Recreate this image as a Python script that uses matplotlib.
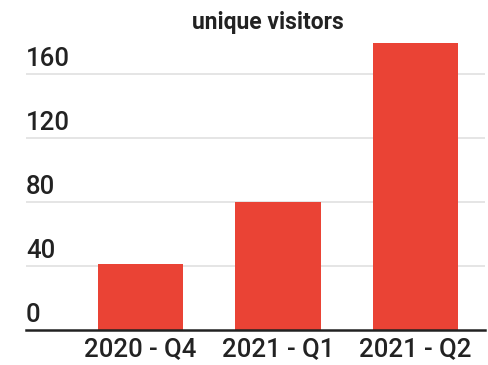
import matplotlib.pyplot as plt
import matplotlib.transforms as mtransforms

# data
quarters = ["2020 - Q4", "2021 - Q1", "2021 - Q2"]
visitors = [41, 80, 179]
y_ticks = [0, 40, 80, 120, 160]

plt.rcParams["font.family"] = ["Roboto", "DejaVu Sans"]

fig = plt.figure(figsize=(4.88, 3.65), dpi=100)
ax = fig.add_axes([26 / 488, 35 / 365, 459 / 488, 290 / 365])

ax.bar(range(len(quarters)), visitors, width=0.62, color="#EA4335", zorder=2)

ax.set_xlim(-0.833, 2.505)
ax.set_ylim(0, 181)

# gridlines
for t in y_ticks[1:]:
    ax.axhline(t, color="#e0e0e0", linewidth=1.2, zorder=1)

# y labels sit above their gridlines, left aligned
trans = mtransforms.blended_transform_factory(ax.transAxes, ax.transData)
offset = mtransforms.ScaledTranslation(0, 5.5 / 72, fig.dpi_scale_trans)
for t in y_ticks:
    ax.text(0, t, str(t), transform=trans + offset, ha="left", va="baseline",
            fontsize=18.5, fontweight="medium", color="#222222")

ax.set_yticks([])
ax.set_xticks(range(len(quarters)))
ax.set_xticklabels(quarters, fontsize=18.5, fontweight="medium", color="#222222")
ax.tick_params(axis="x", length=0, pad=5)

for s in ["top", "right", "left"]:
    ax.spines[s].set_visible(False)
ax.spines["bottom"].set_color("#222222")
ax.spines["bottom"].set_linewidth(1.8)
ax.spines["bottom"].set_zorder(3)

fig.text(268 / 488, 1 - 22 / 365, "unique visitors", ha="center", va="center",
         fontsize=16.5, fontweight="bold", color="#222222")

fig.savefig("out.png", dpi=100)
plt.close()
